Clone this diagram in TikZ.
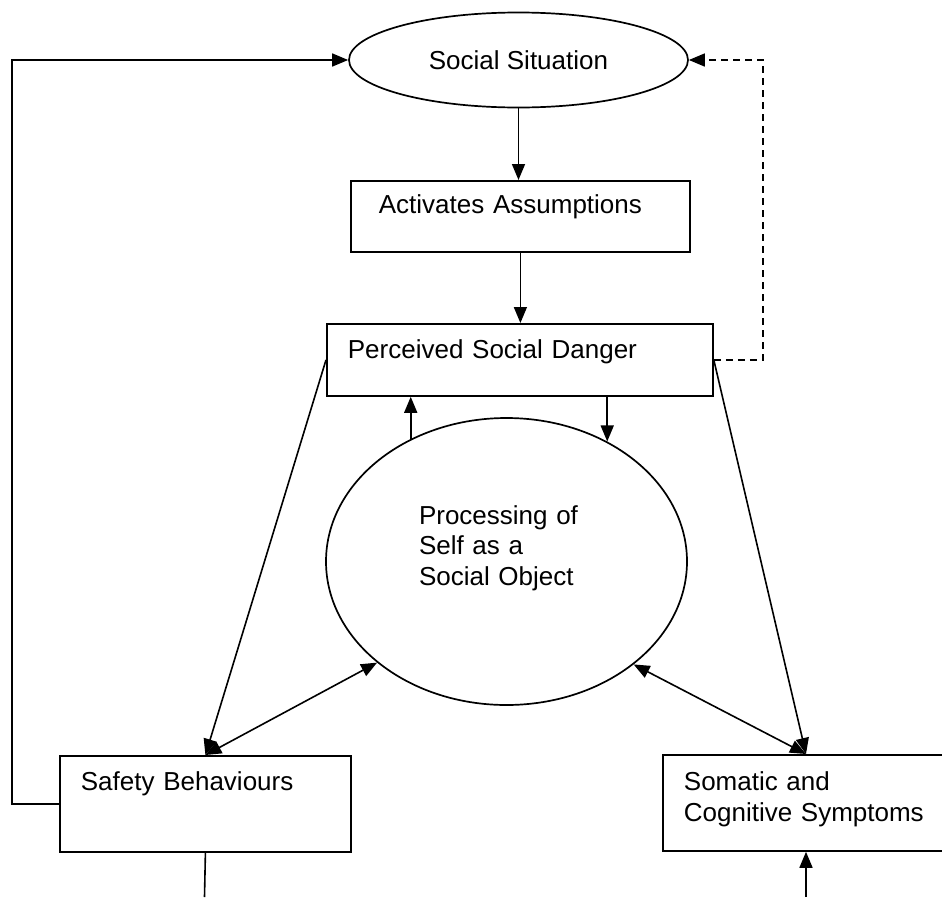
\documentclass[tikz,border=0pt]{standalone}
\usepackage{fontspec}
\setmainfont{Liberation Sans}
\usetikzlibrary{shapes.geometric,arrows.meta}

\begin{document}
\begin{tikzpicture}[x=1pt,y=-1pt,
  font=\fontsize{26}{30.5}\selectfont,
  boxnode/.style={draw,line width=1.8pt,rectangle,anchor=north west,inner xsep=21pt,inner ysep=0pt,align=left},
  ovalnode/.style={draw,line width=1.7pt,ellipse,inner sep=0pt},
  arr/.style={-{Triangle[length=16pt,width=13pt]},line width=1.6pt},
  dbl/.style={{Triangle[length=16pt,width=13pt]}-{Triangle[length=16pt,width=13pt]},line width=1.6pt}]
  \clip (0,0) rectangle (942,897);

  \node[ovalnode,minimum width=339pt,minimum height=95pt] (sit) at (518.5,60) {Social Situation};
  \node[boxnode,inner xsep=28pt,text width=283pt,text height=33pt,text depth=38pt] (act) at (350,180) {Activates Assumptions};
  \node[boxnode,text width=344pt,text height=35pt,text depth=37pt] (per) at (326,323) {Perceived Social Danger};
  \node[ovalnode,minimum width=361pt,minimum height=287pt,text width=175pt,align=left,text height=20pt,text depth=95pt] (proc) at (506.5,561.5) {Processing of\\Self as a\\Social Object};
  \node[boxnode,text width=249pt,text height=35pt,text depth=61pt] (safe) at (59,755) {Safety Behaviours};
  \node[boxnode,text width=260pt,text height=36pt,text depth=60pt] (som) at (662,754) {Somatic and\\Cognitive Symptoms};
  \coordinate (sbot) at (204.5,897);
  \coordinate (mbot) at (806,897);

  \draw[arr] (sit.south) -- (sit.south |- act.north);
  \draw[arr] (act.south) -- (act.south |- per.north);
  \draw[arr] (safe.west) -- ++(-47,0) |- (sit.west);
  \draw[arr,dash pattern=on 7pt off 5pt] (per.east) -- ++(49,0) |- (sit.east);

  \draw[arr] (per.west) -- (safe.north);
  \draw[arr] (per.east) -- ([xshift=144pt]som.north west);
  \draw[arr] (proc.128) -- (proc.128 |- per.south);
  \draw[arr] (proc.50 |- per.south) -- (proc.50);

  \draw[dbl] (safe.north) -- (proc.218);
  \draw[dbl] (proc.321) -- ([xshift=144pt]som.north west);

  \draw[line width=1.6pt] (safe.south) -- (sbot);
  \draw[arr] (mbot) -- ([xshift=144pt]som.south west);
\end{tikzpicture}
\end{document}
